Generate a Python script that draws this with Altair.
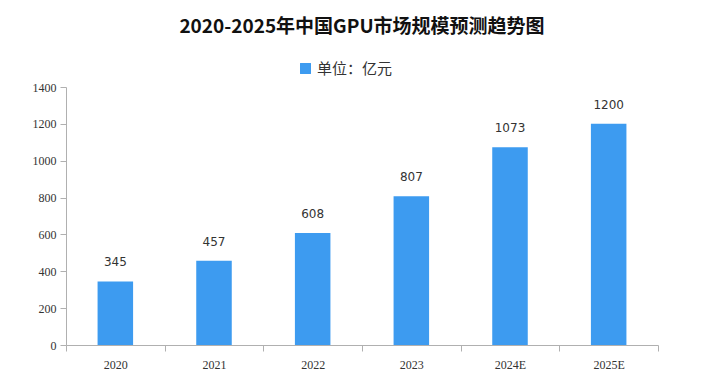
import altair as alt
import pandas as pd

years = ["2020", "2021", "2022", "2023", "2024E", "2025E"]
values = [345, 457, 608, 807, 1073, 1200]
series = ["单位：亿元"] * len(years)

df = pd.DataFrame({"year": years, "value": values, "series": series})

base = alt.Chart(df).encode(
    x=alt.X("year:N", sort=years, title=None,
            scale=alt.Scale(paddingInner=0, paddingOuter=0),
            axis=alt.Axis(labelAngle=0, tickBand="extent", domainColor="#b0b0b0",
                          tickColor="#b0b0b0", labelColor="#333", labelFont="Liberation Serif",
                          labelFontSize=12, labelPadding=8, tickSize=6)),
    y=alt.Y("value:Q", title=None,
            scale=alt.Scale(domain=[0, 1400]),
            axis=alt.Axis(values=[0, 200, 400, 600, 800, 1000, 1200, 1400], grid=False,
                          format="d", labelOverlap=False, tickCount=8,
                          domainColor="#b0b0b0", tickColor="#b0b0b0", labelColor="#333",
                          labelFont="Liberation Serif", labelFontSize=12, tickSize=6, labelPadding=4)),
)

bars = base.mark_bar(color="#3d9bf0", width={"band": 0.36}).encode(
    color=alt.Color("series:N", title=None,
                    scale=alt.Scale(range=["#3d9bf0"]),
                    legend=alt.Legend(orient="none", legendX=232, legendY=-26, symbolType="square",
                                      symbolSize=120, labelFontSize=15, labelColor="#333",
                                      labelFont="Noto Sans CJK SC")),
)

labels = base.mark_text(baseline="bottom", dy=-12, fontSize=12, color="#333", font="DejaVu Sans").encode(
    text=alt.Text("value:Q"),
)

chart = (bars + labels).properties(
    width=592, height=258,
    padding={"left": 58, "top": 79, "right": 43, "bottom": 28},
    autosize=alt.AutoSizeParams(type="none"),
    title=alt.TitleParams("2020-2025年中国GPU市场规模预测趋势图", font="Noto Sans CJK SC",
                          fontSize=19, fontWeight="bold", color="#111", anchor="middle", offset=24),
).configure_view(stroke=None)

chart.save("out.html", embed_options={"renderer": "svg", "actions": False})
